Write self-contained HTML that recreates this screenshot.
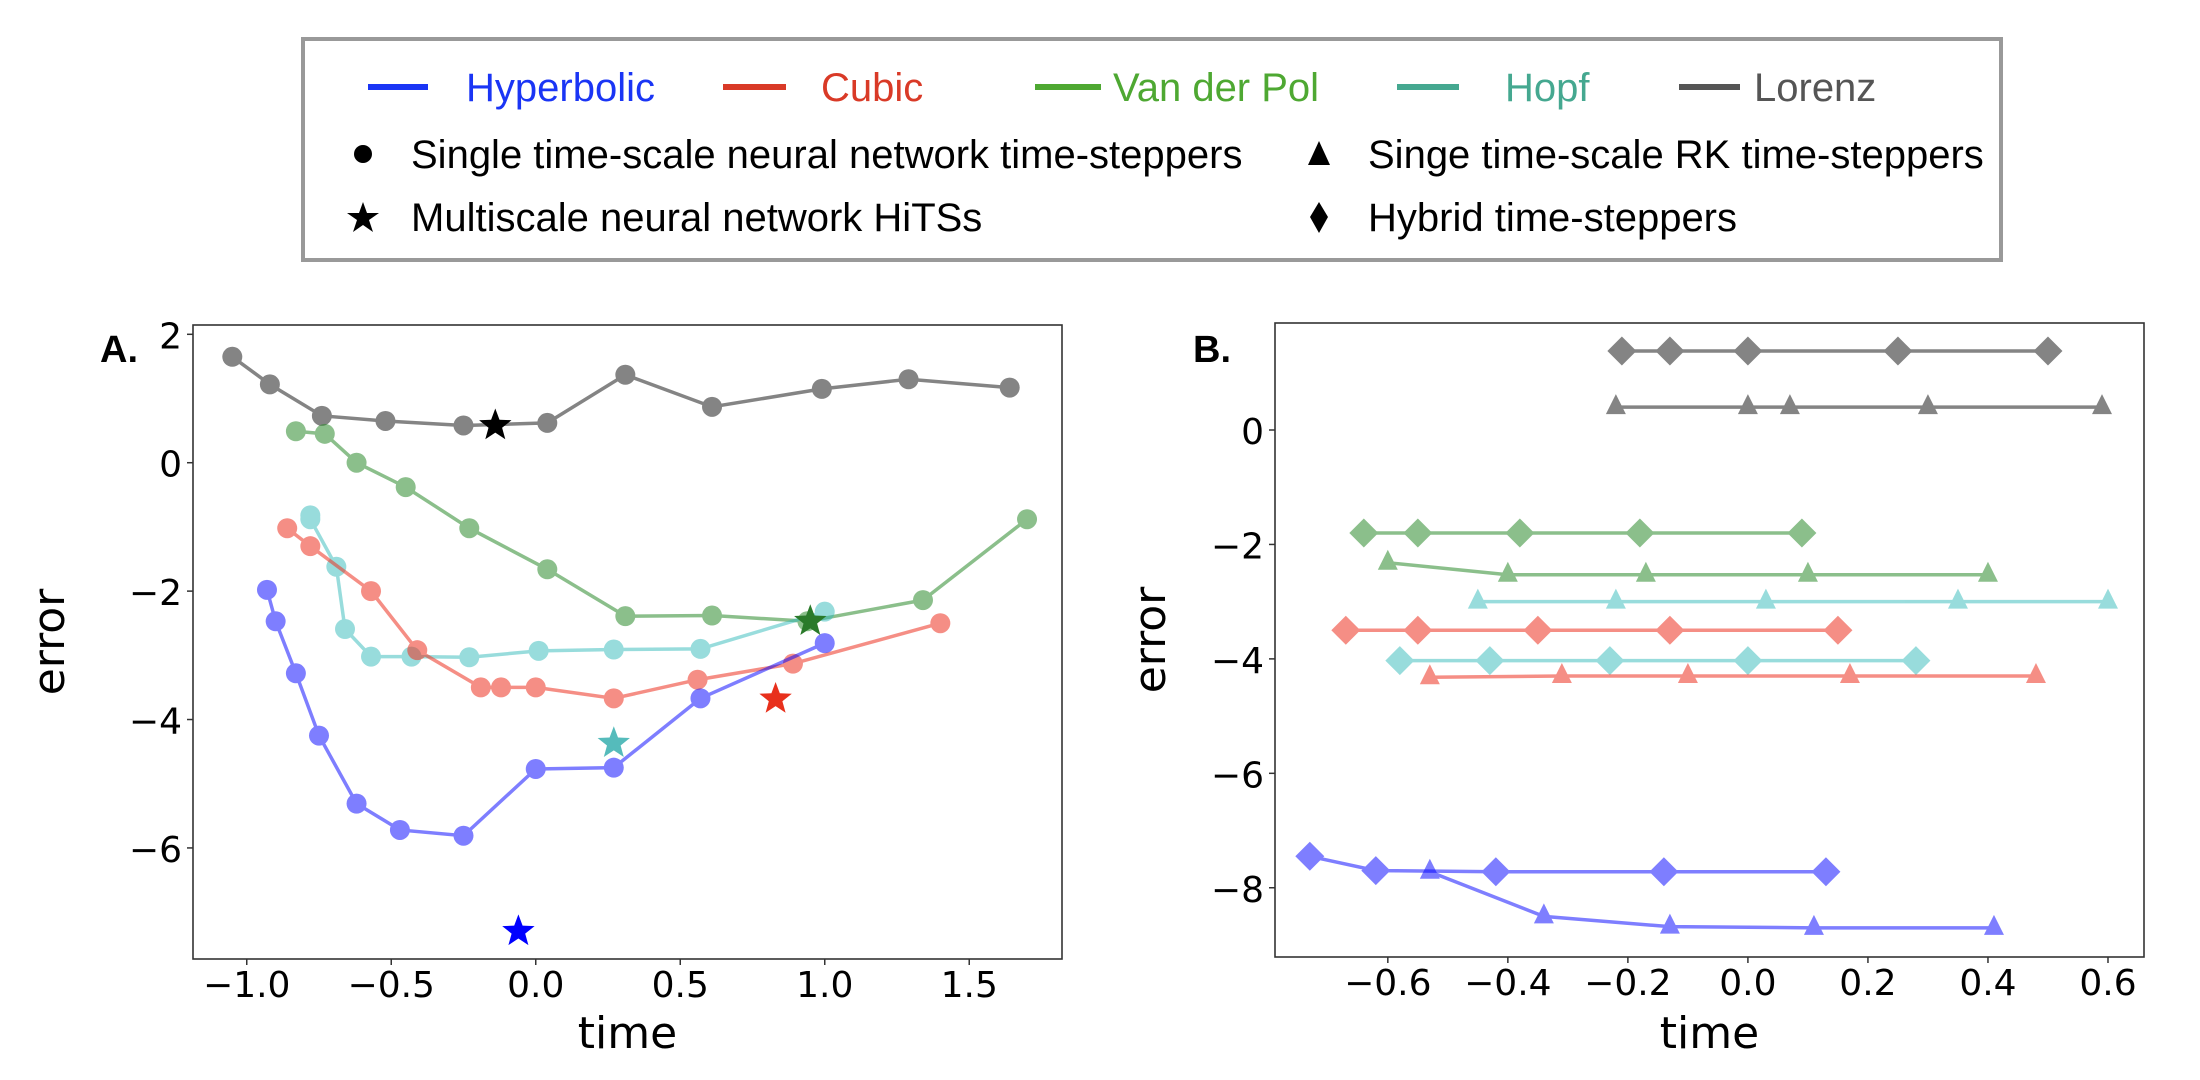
<!DOCTYPE html>
<html><head><meta charset="utf-8"><style>
html,body{margin:0;padding:0;background:#fff;}
svg{display:block;font-family:"Liberation Sans",sans-serif;}
.tk{font-family:"DejaVu Sans","Liberation Sans",sans-serif;}
</style></head><body>
<svg id="fig" width="2200" height="1080" viewBox="0 0 2200 1080" xmlns="http://www.w3.org/2000/svg">
<rect x="0" y="0" width="2200" height="1080" fill="#fff"/>
<g>
<rect x="303" y="39" width="1698" height="221" fill="#fff" stroke="#999" stroke-width="4"/>
<g><line x1="368" y1="87" x2="428" y2="87" stroke="#1a35f5" stroke-width="6"/><text x="466" y="101" font-size="40" fill="#1a35f5">Hyperbolic</text></g>
<g><line x1="723" y1="87" x2="786" y2="87" stroke="#d93a27" stroke-width="6"/><text x="821" y="101" font-size="40" fill="#d93a27">Cubic</text></g>
<g><line x1="1035" y1="87" x2="1101" y2="87" stroke="#4ea832" stroke-width="6"/><text x="1113" y="101" font-size="40" fill="#4ea832">Van der Pol</text></g>
<g><line x1="1397" y1="87" x2="1459" y2="87" stroke="#45a890" stroke-width="6"/><text x="1505" y="101" font-size="40" fill="#45a890">Hopf</text></g>
<g><line x1="1679" y1="87" x2="1740" y2="87" stroke="#555" stroke-width="6"/><text x="1754" y="101" font-size="40" fill="#555">Lorenz</text></g>
<g><circle cx="363" cy="154" r="9" fill="#000"/><text x="411" y="168" font-size="40">Single time-scale neural network time-steppers</text></g>
<g><polygon points="1319,141 1330,165 1308,165" fill="#000"/><text x="1368" y="168" font-size="40">Singe time-scale RK time-steppers</text></g>
<g><polygon points="363,202 367,213 379,213 369,220 373,232 363,225 353,232 357,220 347,213 359,213" fill="#000"/><text x="411" y="231" font-size="40">Multiscale neural network HiTSs</text></g>
<g><polygon points="1319,202 1328,217 1319,233 1310,217" fill="#000"/><text x="1368" y="231" font-size="40">Hybrid time-steppers</text></g>
</g>
<g id="pa"></g>
<g id="pb"></g>
</svg>
<script>
// Panel A data
const aLorenzX=[-1.05,-0.92,-0.74,-0.52,-0.25,0.04,0.31,0.61,0.99,1.29,1.64];
const aLorenzY=[1.65,1.22,0.73,0.65,0.58,0.62,1.37,0.87,1.15,1.30,1.17];
const aVdpX=[-0.83,-0.73,-0.62,-0.45,-0.23,0.04,0.31,0.61,0.94,1.34,1.70];
const aVdpY=[0.49,0.45,0.0,-0.38,-1.02,-1.66,-2.39,-2.38,-2.47,-2.14,-0.88];
const aHopfX=[-0.78,-0.78,-0.69,-0.66,-0.57,-0.43,-0.23,0.01,0.27,0.57,1.0];
const aHopfY=[-0.82,-0.88,-1.62,-2.59,-3.02,-3.02,-3.03,-2.93,-2.91,-2.9,-2.32];
const aCubicX=[-0.86,-0.78,-0.57,-0.41,-0.19,-0.12,0.0,0.27,0.56,0.89,1.40];
const aCubicY=[-1.02,-1.3,-2.0,-2.92,-3.5,-3.5,-3.5,-3.67,-3.38,-3.13,-2.5];
const aHypX=[-0.93,-0.9,-0.83,-0.75,-0.62,-0.47,-0.25,0.0,0.27,0.57,1.0];
const aHypY=[-1.98,-2.47,-3.28,-4.25,-5.31,-5.72,-5.81,-4.77,-4.75,-3.67,-2.81];
const aStarX=[-0.14,-0.06,0.83,0.27,0.95];
const aStarY=[0.58,-7.3,-3.68,-4.37,-2.47];
const aXTicks=[-1.0,-0.5,0.0,0.5,1.0,1.5];
const aYTicks=[2,0,-2,-4,-6];
// Panel B data
const bLorenzDX=[-0.21,-0.13,0.0,0.25,0.5], bLorenzDY=[1.38,1.38,1.38,1.38,1.38];
const bLorenzTX=[-0.22,0.0,0.07,0.3,0.59], bLorenzTY=[0.4,0.4,0.4,0.4,0.4];
const bVdpDX=[-0.64,-0.55,-0.38,-0.18,0.09], bVdpDY=[-1.8,-1.8,-1.8,-1.8,-1.8];
const bVdpTX=[-0.6,-0.4,-0.17,0.1,0.4], bVdpTY=[-2.32,-2.53,-2.53,-2.53,-2.53];
const bHopfTX=[-0.45,-0.22,0.03,0.35,0.6], bHopfTY=[-3.0,-3.0,-3.0,-3.0,-3.0];
const bHopfDX=[-0.58,-0.43,-0.23,0.0,0.28], bHopfDY=[-4.03,-4.03,-4.03,-4.03,-4.03];
const bCubicDX=[-0.67,-0.55,-0.35,-0.13,0.15], bCubicDY=[-3.5,-3.5,-3.5,-3.5,-3.5];
const bCubicTX=[-0.53,-0.31,-0.1,0.17,0.48], bCubicTY=[-4.32,-4.3,-4.3,-4.3,-4.3];
const bHypDX=[-0.73,-0.62,-0.42,-0.14,0.13], bHypDY=[-7.45,-7.7,-7.72,-7.72,-7.72];
const bHypTX=[-0.53,-0.34,-0.13,0.11,0.41], bHypTY=[-7.72,-8.5,-8.68,-8.7,-8.7];
const bXTicks=[-0.6,-0.4,-0.2,0.0,0.2,0.4,0.6];
const bYTicks=[0,-2,-4,-6,-8];

const NS='http://www.w3.org/2000/svg';
function mk(parent,tag,attrs){const e=document.createElementNS(NS,tag);for(const k in attrs)e.setAttribute(k,attrs[k]);parent.appendChild(e);return e;}
function fmt(v,d){let s=Math.abs(v).toFixed(d);if(v<0)s='\u2212'+s;return s;}

function axes(g,box,xr,yr,xt,yt,xd,label,txy){
  const sx=v=>box.l+(v-xr[0])/(xr[1]-xr[0])*(box.r-box.l);
  const sy=v=>box.b-(v-yr[0])/(yr[1]-yr[0])*(box.b-box.t);
  const fr=mk(g,'rect',{x:box.l,y:box.t,width:box.r-box.l,height:box.b-box.t,fill:'none',stroke:'#333','stroke-width':1.6});
  
  
  xt.forEach(v=>{
    mk(g,'line',{x1:sx(v),y1:box.b,x2:sx(v),y2:box.b+6,stroke:'#333','stroke-width':1.5});
    const t=mk(g,'text',{x:sx(v),y:box.b+38,'font-size':36,'text-anchor':'middle',class:'tk'});
    t.textContent=fmt(v,xd);
    
    
  });
  yt.forEach(v=>{
    mk(g,'line',{x1:box.l-6,y1:sy(v),x2:box.l,y2:sy(v),stroke:'#333','stroke-width':1.5});
    const t=mk(g,'text',{x:box.l-11,y:sy(v)+14,'font-size':36,'text-anchor':'end',class:'tk'});
    t.textContent=fmt(v,0);
    
    
  });
  const xl=mk(g,'text',{x:(box.l+box.r)/2,y:1048,'font-size':44,'text-anchor':'middle',class:'tk'});
  xl.textContent='time';
  
  
  const yl=mk(g,'text',{x:0,y:0,'font-size':44,'text-anchor':'middle',class:'tk',transform:`translate(${txy.ex},${(box.t+box.b)/2}) rotate(-90)`});
  yl.textContent='error';
  
  
  const pl=mk(g,'text',{x:txy.px,y:362,'font-size':38,'font-weight':'bold'});
  pl.textContent=label;
  
  
  return {sx,sy};
}
function series(g,s,xs,ys,col,op,shape,name){
  const sg=mk(g,'g',{opacity:op});
  
  
  mk(sg,'polyline',{points:xs.map((x,i)=>s.sx(x)+','+s.sy(ys[i])).join(' '),fill:'none',stroke:col,'stroke-width':3.5});
  xs.forEach((x,i)=>{
    const X=s.sx(x),Y=s.sy(ys[i]);let m;
    if(shape==='o')m=mk(sg,'circle',{cx:X,cy:Y,r:10,fill:col});
    else if(shape==='^')m=mk(sg,'polygon',{points:`${X},${Y-13} ${X+10},${Y+7} ${X-10},${Y+7}`,fill:col});
    else m=mk(sg,'polygon',{points:`${X},${Y-14.5} ${X+14.5},${Y} ${X},${Y+14.5} ${X-14.5},${Y}`,fill:col});
    
    
  });
}
function star(g,X,Y,r,col){
  let p=[];for(let i=0;i<10;i++){const a=-Math.PI/2+i*Math.PI/5;const rr=i%2?r*0.42:r;p.push((X+rr*Math.cos(a)).toFixed(1)+','+(Y+rr*Math.sin(a)).toFixed(1));}
  const e=mk(g,'polygon',{points:p.join(' '),fill:col});
  
  
}
const pa=document.getElementById('pa');
const A=axes(pa,{l:193,r:1062,t:325,b:959},[-1.186,1.821],[-7.73,2.145],aXTicks,aYTicks,1,'A.',{ex:64,px:100});
series(pa,A,aLorenzX,aLorenzY,'#333',0.6,'o','series-lorenz');
series(pa,A,aVdpX,aVdpY,'#2e8b2e',0.55,'o','series-van-der-pol');
series(pa,A,aHopfX,aHopfY,'#33bbbb',0.5,'o','series-hopf');
series(pa,A,aCubicX,aCubicY,'#ee3322',0.55,'o','series-cubic');
series(pa,A,aHypX,aHypY,'#0000ff',0.5,'o','series-hyperbolic');
const starCols=['#000','#0000ff','#e8301c','#55bbbb','#2a7a2a'];
aStarX.forEach((x,i)=>star(pa,A.sx(x),A.sy(aStarY[i]),17,starCols[i]));

const pb=document.getElementById('pb');
const B=axes(pb,{l:1275,r:2144,t:323,b:957},[-0.788,0.66],[-9.21,1.87],bXTicks,bYTicks,1,'B.',{ex:1165,px:1193});
series(pb,B,bLorenzDX,bLorenzDY,'#333',0.6,'d','lorenz-hybrid');
series(pb,B,bLorenzTX,bLorenzTY,'#333',0.6,'^','lorenz-rk');
series(pb,B,bVdpDX,bVdpDY,'#2e8b2e',0.55,'d','vdp-hybrid');
series(pb,B,bVdpTX,bVdpTY,'#2e8b2e',0.55,'^','vdp-rk');
series(pb,B,bHopfTX,bHopfTY,'#33bbbb',0.5,'^','hopf-rk');
series(pb,B,bHopfDX,bHopfDY,'#33bbbb',0.5,'d','hopf-hybrid');
series(pb,B,bCubicDX,bCubicDY,'#ee3322',0.55,'d','cubic-hybrid');
series(pb,B,bCubicTX,bCubicTY,'#ee3322',0.55,'^','cubic-rk');
series(pb,B,bHypDX,bHypDY,'#0000ff',0.5,'d','hyperbolic-hybrid');
series(pb,B,bHypTX,bHypTY,'#0000ff',0.5,'^','hyperbolic-rk');
</script>
</body></html>
